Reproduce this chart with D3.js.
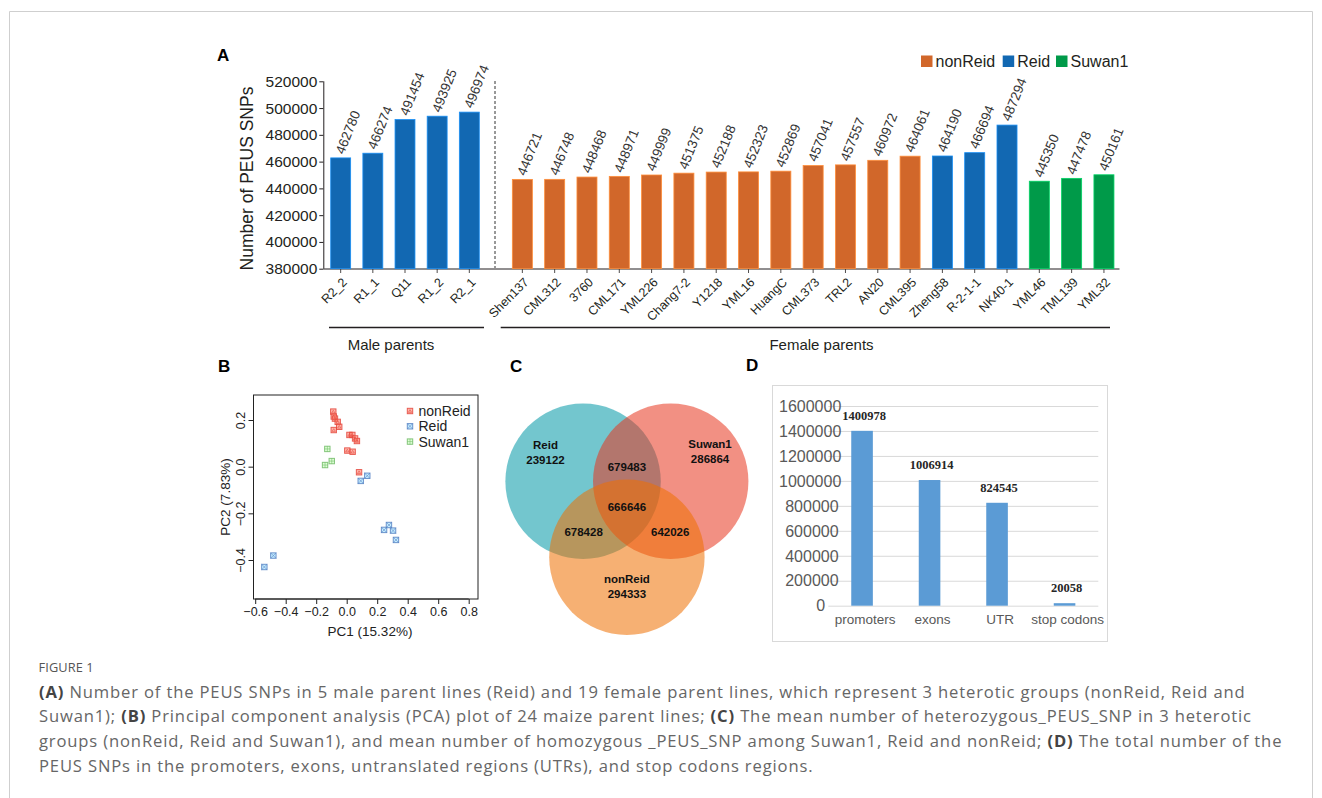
<!DOCTYPE html>
<html>
<head>
<meta charset="utf-8">
<script src="https://cdn.jsdelivr.net/npm/d3@7/dist/d3.min.js"></script>
<style>
  html, body { margin: 0; padding: 0; background: #fff; }
  svg { display: block; }
  .sans { font-family: "Liberation Sans", Arial, sans-serif; }
  .serif { font-family: "Liberation Serif", "Times New Roman", serif; }
  .cap { font-family: "Open Sans", "Noto Sans", sans-serif; }
</style>
</head>
<body>
<svg id="fig" width="1322" height="798"></svg>
<script>
// ---------- Panel A: PEUS SNPs per parent line ----------
const maleLines = ["R2_2", "R1_1", "Q11", "R1_2", "R2_1"];
const maleValues = [462780, 466274, 491454, 493925, 496974];
const maleGroups = ["Reid", "Reid", "Reid", "Reid", "Reid"];

const femaleLines = ["Shen137", "CML312", "3760", "CML171", "YML226", "Chang7-2", "Y1218", "YML16",
  "HuangC", "CML373", "TRL2", "AN20", "CML395", "Zheng58", "R-2-1-1", "NK40-1", "YML46", "TML139", "YML32"];
const femaleValues = [446721, 446748, 448468, 448971, 449999, 451375, 452188, 452323,
  452869, 457041, 457557, 460972, 464061, 464190, 466694, 487294, 445350, 447478, 450161];
const femaleGroups = ["nonReid", "nonReid", "nonReid", "nonReid", "nonReid", "nonReid", "nonReid", "nonReid",
  "nonReid", "nonReid", "nonReid", "nonReid", "nonReid", "Reid", "Reid", "Reid", "Suwan1", "Suwan1", "Suwan1"];

const snpTicks = [380000, 400000, 420000, 440000, 460000, 480000, 500000, 520000];
const groupNames = ["nonReid", "Reid", "Suwan1"];
const groupColors = ["#d1672a", "#1268b2", "#009a49"];
const parentLabels = ["Male parents", "Female parents"];

// ---------- Panel B: PCA of the 24 parent lines ----------
const pcaGroup = ["nonReid", "nonReid", "nonReid", "nonReid", "nonReid", "nonReid", "nonReid",
  "nonReid", "nonReid", "nonReid", "nonReid", "nonReid", "nonReid",
  "Reid", "Reid", "Reid", "Reid", "Reid", "Reid", "Reid", "Reid",
  "Suwan1", "Suwan1", "Suwan1"];
const pc1 = [-0.088, -0.085, -0.077, -0.059, -0.049, -0.085, 0.018, 0.037, 0.055, 0.067, 0.004, 0.039, 0.081,
  0.092, 0.135, 0.245, 0.277, 0.304, 0.323, -0.481, -0.540,
  -0.127, -0.098, -0.142];
const pc2 = [0.236, 0.215, 0.206, 0.192, 0.171, 0.157, 0.136, 0.136, 0.121, 0.110, 0.069, 0.064, -0.024,
  -0.061, -0.039, -0.271, -0.250, -0.274, -0.314, -0.381, -0.430,
  0.076, 0.024, 0.007];
const pc1Ticks = [-0.6, -0.4, -0.2, 0.0, 0.2, 0.4, 0.6, 0.8];
const pc2Ticks = [-0.4, -0.2, 0.0, 0.2];
const pcaColors = ["#e4473c", "#5681c3", "#72bb68"];

// ---------- Panel C: Venn of heterotic groups ----------
const vennSets = ["Reid", "Suwan1", "nonReid"];
const vennUnique = [239122, 286864, 294333];
const vennPairs = [679483, 642026, 678428];  // Reid&Suwan1, Suwan1&nonReid, nonReid&Reid
const vennCore = 666646;
const vennColors = ["#0097a5", "#e7351d", "#ef6f00"];

// ---------- Panel D: PEUS SNPs by genomic region ----------
const regions = ["promoters", "exons", "UTR", "stop codons"];
const regionCounts = [1400978, 1006914, 824545, 20058];
const countTicks = [0, 200000, 400000, 600000, 800000, 1000000, 1200000, 1400000, 1600000];

// ---------- Caption ----------
const captionTitle = "FIGURE 1";
const captionLines = [
  [["(A)", true], [" Number of the PEUS SNPs in 5 male parent lines (Reid) and 19 female parent lines, which represent 3 heterotic groups (nonReid, Reid and", false]],
  [["Suwan1); ", false], ["(B)", true], [" Principal component analysis (PCA) plot of 24 maize parent lines; ", false], ["(C)", true], [" The mean number of heterozygous_PEUS_SNP in 3 heterotic", false]],
  [["groups (nonReid, Reid and Suwan1), and mean number of homozygous _PEUS_SNP among Suwan1, Reid and nonReid; ", false], ["(D)", true], [" The total number of the", false]],
  [["PEUS SNPs in the promoters, exons, untranslated regions (UTRs), and stop codons regions.", false]]
];

const svg = d3.select("#fig");
const ink = "#231f20";
const colorOf = d3.scaleOrdinal().domain(groupNames).range(groupColors);

// outer frame
svg.append("path")
  .attr("d", "M9.5,798 V11.5 H1312.5 V798")
  .attr("fill", "none").attr("stroke", "#cfcfcf").attr("stroke-width", 1);

// panel letters
const letters = [["A", 217, 61], ["B", 218, 372], ["C", 510, 372], ["D", 746, 371]];
svg.selectAll("text.panel").data(letters).join("text")
  .attr("class", "panel sans")
  .attr("x", d => d[1]).attr("y", d => d[2])
  .attr("font-size", 17).attr("font-weight", "bold").attr("fill", "#000")
  .text(d => d[0]);

// ================= Panel A =================
(function () {
  const gA = svg.append("g").attr("class", "sans");
  const y = d3.scaleLinear().domain([380000, 520000]).range([268.7, 81.3]);
  const xMale = d3.scaleBand().domain(maleLines).range([324.6, 485.4]).paddingInner(0.38).paddingOuter(0.19);
  const xFemale = d3.scaleBand().domain(femaleLines).range([506.2, 1120.1]).paddingInner(0.38).paddingOuter(0.19);

  const rows = maleLines.map((n, i) => ({ name: n, value: maleValues[i], group: maleGroups[i], x: xMale(n), w: xMale.bandwidth() }))
    .concat(femaleLines.map((n, i) => ({ name: n, value: femaleValues[i], group: femaleGroups[i], x: xFemale(n), w: xFemale.bandwidth() })));

  // y axis
  const yAxis = d3.axisLeft(y).tickValues(snpTicks).tickFormat(d3.format("d")).tickSize(4).tickPadding(2);
  const ya = gA.append("g").attr("transform", "translate(323.3,0)").call(yAxis);
  ya.select(".domain").attr("stroke", ink).attr("d", "M0.5," + y(520000) + "V" + y(380000));
  ya.selectAll(".tick line").attr("stroke", ink);
  ya.selectAll(".tick text").attr("fill", ink).attr("font-size", 15.5).attr("font-family", null);

  // x axis line and ticks
  gA.append("line").attr("x1", 323.3).attr("x2", 1119.5).attr("y1", 269).attr("y2", 269)
    .attr("stroke", ink).attr("stroke-width", 1);
  gA.selectAll("line.xt").data(rows).join("line").attr("class", "xt")
    .attr("x1", d => d.x + d.w / 2).attr("x2", d => d.x + d.w / 2)
    .attr("y1", 269).attr("y2", 273).attr("stroke", ink).attr("stroke-width", 0.8);

  // bars
  gA.selectAll("rect.bar").data(rows).join("rect").attr("class", "bar")
    .attr("x", d => d.x).attr("width", d => d.w)
    .attr("y", d => y(d.value)).attr("height", d => y(380000) - y(d.value))
    .attr("fill", d => colorOf(d.group))
    .attr("stroke", d => d3.color(colorOf(d.group)).brighter(0.9))
    .attr("stroke-width", 0.8);

  // value labels
  gA.selectAll("text.val").data(rows).join("text").attr("class", "val")
    .attr("transform", d => `translate(${d.x + d.w / 2 + 3},${y(d.value) - 3}) rotate(-68)`)
    .attr("font-size", 13.5).attr("fill", "#333")
    .text(d => d.value);

  // category labels
  gA.selectAll("text.cat").data(rows).join("text").attr("class", "cat")
    .attr("transform", d => `translate(${d.x + d.w / 2 + 7},283) rotate(-45)`)
    .attr("text-anchor", "end").attr("font-size", 12.5).attr("fill", ink)
    .text(d => d.name);

  // divider between male and female parents
  gA.append("line").attr("x1", 495).attr("x2", 495).attr("y1", 81).attr("y2", 268)
    .attr("stroke", "#333").attr("stroke-dasharray", "3,2").attr("stroke-width", 1);

  // axis title
  gA.append("text").attr("transform", "translate(252.5,178.5) rotate(-90)")
    .attr("text-anchor", "middle").attr("font-size", 17.5).attr("fill", ink)
    .text("Number of PEUS SNPs");

  // group brackets
  const spans = [[329, 484, 391], [500.7, 1110, 821.5]];
  spans.forEach((s, i) => {
    gA.append("line").attr("x1", s[0]).attr("x2", s[1]).attr("y1", 327.5).attr("y2", 327.5)
      .attr("stroke", ink).attr("stroke-width", 1.5);
    gA.append("text").attr("x", s[2]).attr("y", 350).attr("text-anchor", "middle")
      .attr("font-size", 15).attr("fill", ink).text(parentLabels[i]);
  });

  // legend
  const leg = gA.append("g");
  const legX = [921, 1002.7, 1056];
  groupNames.forEach((g, i) => {
    leg.append("rect").attr("x", legX[i]).attr("y", 55.5).attr("width", 11.5).attr("height", 11.5)
      .attr("fill", groupColors[i]);
    leg.append("text").attr("x", legX[i] + 14.5).attr("y", 66.5).attr("font-size", 16).attr("fill", ink).text(g);
  });
})();

// ================= Panel B =================
(function () {
  const gB = svg.append("g").attr("class", "sans");
  const x = d3.scaleLinear().domain([-0.6, 0.8]).range([255.2, 468.7]);
  const y = d3.scaleLinear().domain([-0.4, 0.2]).range([560, 420]);
  const box = { x0: 253.5, x1: 478, y0: 395, y1: 599 };

  gB.append("rect").attr("x", box.x0).attr("y", box.y0)
    .attr("width", box.x1 - box.x0).attr("height", box.y1 - box.y0)
    .attr("fill", "none").attr("stroke", "#222").attr("stroke-width", 1);

  const xAxis = d3.axisBottom(x).tickValues(pc1Ticks).tickFormat(d3.format(".1f")).tickSize(5).tickPadding(3);
  const xa = gB.append("g").attr("transform", `translate(0,${box.y1})`).call(xAxis);
  xa.select(".domain").attr("stroke", "#222").attr("d", `M${x(-0.6)},0H${x(0.8)}`);
  xa.selectAll(".tick line").attr("stroke", "#222");
  xa.selectAll(".tick text").attr("fill", "#222").attr("font-size", 12.5).attr("font-family", null);

  const yAxis = d3.axisLeft(y).tickValues(pc2Ticks).tickFormat(d3.format(".1f")).tickSize(5);
  const ya = gB.append("g").attr("transform", `translate(${box.x0},0)`).call(yAxis);
  ya.select(".domain").attr("stroke", "#222").attr("d", `M0,${y(-0.4)}V${y(0.2)}`);
  ya.selectAll(".tick line").attr("stroke", "#222");
  ya.selectAll(".tick text").attr("fill", "#222").attr("font-size", 12.5).attr("font-family", null)
    .attr("x", null).attr("dy", null)
    .attr("text-anchor", "middle")
    .attr("transform", "translate(-9,0) rotate(-90)");

  gB.append("text").attr("x", 370).attr("y", 636).attr("text-anchor", "middle")
    .attr("font-size", 13.5).attr("fill", "#222").text("PC1 (15.32%)");
  gB.append("text").attr("transform", "translate(229.5,497) rotate(-90)").attr("text-anchor", "middle")
    .attr("font-size", 13.5).attr("fill", "#222").text("PC2  (7.83%)");

  const pcColor = d3.scaleOrdinal().domain(groupNames).range(pcaColors);
  const s = 2.7;
  function symbol(g, grp) {
    const c = pcColor(grp);
    g.append("rect").attr("x", -s).attr("y", -s).attr("width", 2 * s).attr("height", 2 * s)
      .attr("fill", d3.color(c).brighter(1.5).copy({ opacity: 0.55 })).attr("stroke", c)
      .attr("stroke-opacity", 0.85).attr("stroke-width", 1);
    let d;
    if (grp === "Reid") d = `M${-s},${-s}L${s},${s}M${s},${-s}L${-s},${s}`;
    else if (grp === "Suwan1") d = `M0,${-s}V${s}M${-s},0H${s}`;
    else d = `M${-s * 0.6},${s * 0.5}L0,${-s * 0.5}L${s * 0.6},${s * 0.5}Z`;
    g.append("path").attr("d", d).attr("fill", "none").attr("stroke", c)
      .attr("stroke-opacity", 0.7).attr("stroke-width", 0.8);
  }

  const pts = pc1.map((v, i) => ({ x: v, y: pc2[i], g: pcaGroup[i] }));
  gB.selectAll("g.pt").data(pts).join("g").attr("class", "pt")
    .attr("transform", d => `translate(${x(d.x)},${y(d.y)})`)
    .each(function (d) { symbol(d3.select(this), d.g); });

  groupNames.forEach((g, i) => {
    const yy = 411 + i * 15.3;
    symbol(gB.append("g").attr("transform", `translate(410,${yy})`), g);
    gB.append("text").attr("x", 418.5).attr("y", yy + 5).attr("font-size", 14).attr("fill", "#222").text(g);
  });
})();

// ================= Panel C =================
(function () {
  const gC = svg.append("g").attr("class", "sans");
  const cx = 626.9, cy = 506.6, d = 50.6, r = 77.7;
  const ang = [210, 330, 90].map(a => a * Math.PI / 180);
  vennSets.forEach((s, i) => {
    gC.append("circle").attr("cx", cx + d * Math.cos(ang[i])).attr("cy", cy + d * Math.sin(ang[i]))
      .attr("r", r).attr("fill", vennColors[i]).attr("fill-opacity", 0.55).attr("stroke", "none");
  });
  const lab = (x, y, t) => gC.append("text").attr("x", x).attr("y", y).attr("text-anchor", "middle")
    .attr("font-size", 11.5).attr("font-weight", "bold").attr("fill", "#111").text(t);
  const uDist = [94, 96, 84], uShift = [-8, -8, -5];
  vennSets.forEach((s, i) => {
    const px = cx + uDist[i] * Math.cos(ang[i]), py = cy + uDist[i] * Math.sin(ang[i]) + uShift[i];
    lab(px, py - 3, s);
    lab(px, py + 12.5, vennUnique[i]);
  });
  const pAng = [270, 30, 150].map(a => a * Math.PI / 180), pDist = [40, 50, 50];
  vennPairs.forEach((v, i) => {
    lab(cx + pDist[i] * Math.cos(pAng[i]), cy + pDist[i] * Math.sin(pAng[i]) + 4, v);
  });
  lab(cx, cy + 4, vennCore);
})();

// ================= Panel D =================
(function () {
  const gD = svg.append("g").attr("class", "sans");
  gD.append("rect").attr("x", 772.5).attr("y", 385.5).attr("width", 335).attr("height", 256)
    .attr("fill", "#fff").attr("stroke", "#d9d9d9").attr("stroke-width", 1);
  const y = d3.scaleLinear().domain([0, 1600000]).range([605.7, 406]);
  const x = d3.scaleBand().domain(regions).range([828.3, 1098.3]).paddingInner(0.68).paddingOuter(0.34);

  gD.selectAll("line.grid").data(countTicks).join("line").attr("class", "grid")
    .attr("x1", 828.3).attr("x2", 1098.3).attr("y1", d => y(d) + 0.5).attr("y2", d => y(d) + 0.5)
    .attr("stroke", "#d9d9d9").attr("stroke-width", 1);

  const tl = gD.selectAll("text.yt").data(countTicks).join("text").attr("class", "yt")
    .attr("y", d => y(d)).attr("dy", "0.36em").attr("text-anchor", "end")
    .attr("font-size", 16).attr("fill", "#595959").text(d => d);
  tl.attr("x", function () { return 822.6 + 0.3 * this.getComputedTextLength(); });

  gD.selectAll("rect.bar").data(regions).join("rect").attr("class", "bar")
    .attr("x", d => x(d)).attr("width", x.bandwidth())
    .attr("y", (d, i) => y(regionCounts[i])).attr("height", (d, i) => y(0) - y(regionCounts[i]))
    .attr("fill", "#5b9bd5");

  gD.selectAll("text.v").data(regions).join("text").attr("class", "v serif")
    .attr("x", d => x(d) + x.bandwidth() / 2 + 2).attr("y", (d, i) => y(regionCounts[i]) - 11)
    .attr("text-anchor", "middle").attr("font-size", 12.5).attr("font-weight", "bold").attr("fill", "#262626")
    .text((d, i) => regionCounts[i]);

  gD.selectAll("text.xl").data(regions).join("text").attr("class", "xl")
    .attr("x", d => x(d) + x.bandwidth() / 2 + 3).attr("y", 624)
    .attr("text-anchor", "middle").attr("font-size", 13.5).attr("fill", "#595959").text(d => d);
})();

// ================= Caption =================
(function () {
  const gT = svg.append("g").attr("class", "cap");
  gT.append("text").attr("x", 38.5).attr("y", 672).attr("font-size", 12.8).attr("fill", "#555")
    .attr("letter-spacing", 0.1).text(captionTitle);
  captionLines.forEach((segs, i) => {
    const t = gT.append("text").attr("x", 39).attr("y", 697.5 + i * 24.7)
      .attr("font-size", 16.6).attr("letter-spacing", 0.85).attr("fill", "#666");
    segs.forEach(s => {
      t.append("tspan").attr("font-weight", s[1] ? "bold" : null).attr("fill", s[1] ? "#444" : null).text(s[0]);
    });
  });
})();
</script>
</body>
</html>
